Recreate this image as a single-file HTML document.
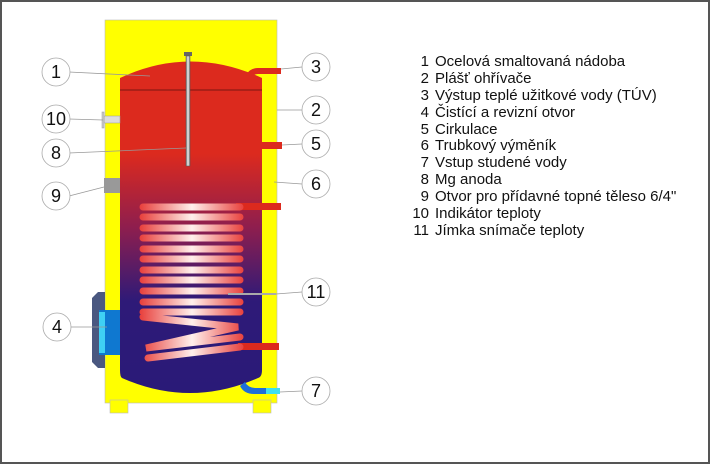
<!DOCTYPE html>
<html><head><meta charset="utf-8"><style>
html,body{margin:0;padding:0;background:#fff}
svg{display:block}
text{font-family:"Liberation Sans",sans-serif}
</style></head><body>
<svg width="710" height="464" viewBox="0 0 710 464" xmlns="http://www.w3.org/2000/svg">
<defs>
<linearGradient id="tg" gradientUnits="userSpaceOnUse" x1="0" y1="60" x2="0" y2="395">
<stop offset="0" stop-color="#dc2a1e"/><stop offset="0.28" stop-color="#dc2a1e"/>
<stop offset="0.5" stop-color="#8e1e4e"/><stop offset="0.72" stop-color="#2e1a78"/><stop offset="1" stop-color="#2a1a78"/>
</linearGradient>
<linearGradient id="coil" gradientUnits="userSpaceOnUse" x1="140" y1="0" x2="244" y2="0">
<stop offset="0" stop-color="#e8403c"/><stop offset="0.5" stop-color="#fff0ec"/><stop offset="1" stop-color="#e8403c"/>
</linearGradient>
<linearGradient id="anode" x1="0" y1="0" x2="1" y2="0">
<stop offset="0" stop-color="#777"/><stop offset="0.5" stop-color="#eee"/><stop offset="1" stop-color="#777"/>
</linearGradient>
</defs>
<rect x="1" y="1" width="708" height="462" fill="#fff" stroke="#555" stroke-width="2"/>
<rect x="105" y="20" width="172" height="383" fill="#ffff00" stroke="#bbb" stroke-width="0.6"/>
<rect x="110" y="400" width="18" height="13" fill="#ffff00" stroke="#bbb" stroke-width="0.6"/>
<rect x="253" y="400" width="18" height="13" fill="#ffff00" stroke="#bbb" stroke-width="0.6"/>
<path d="M120,78 Q190,45 262,78 L262,370 Q262,377 258,378 Q190,408 122,378 Q120,377 120,370 Z" fill="url(#tg)"/>
<line x1="120" y1="90" x2="262" y2="90" stroke="#5a1010" stroke-width="0.8"/>
<path d="M246,75 Q250,68 258,68 L281,68 L281,74 L258,74 Q254,74 250,78 Z" fill="#dc2a1e"/>
<rect x="262" y="142" width="20" height="7" fill="#dc2a1e"/>
<rect x="236" y="203" width="45" height="7" fill="#dc2a1e"/>
<rect x="238" y="343" width="41" height="7" fill="#dc2a1e"/>
<path d="M240,386 Q244,394 254,394 L280,394 L280,388 L256,388 Q248,388 245,382 Z" fill="#1f6ed8"/>
<rect x="266" y="388" width="14" height="6" fill="#3fe0f0"/>
<g stroke="url(#coil)" stroke-width="7" stroke-linecap="round" fill="none">
<line x1="143" y1="207" x2="240" y2="207"/>
<line x1="143" y1="217" x2="240" y2="217"/>
<line x1="143" y1="228" x2="240" y2="228"/>
<line x1="143" y1="238" x2="240" y2="238"/>
<line x1="143" y1="249" x2="240" y2="249"/>
<line x1="143" y1="259" x2="240" y2="259"/>
<line x1="143" y1="270" x2="240" y2="270"/>
<line x1="143" y1="280" x2="240" y2="280"/>
<line x1="143" y1="291" x2="240" y2="291"/>
<line x1="143" y1="302" x2="240" y2="302"/>
<line x1="143" y1="312" x2="240" y2="312"/>
<path d="M143,317 L238,327 L146,348 L240,337"/>
<path d="M148,358 L240,347"/>
</g>
<rect x="184" y="52" width="8" height="4" fill="#666"/>
<rect x="186" y="56" width="4" height="110" fill="url(#anode)" stroke="#555" stroke-width="0.5"/>
<rect x="104" y="116" width="16" height="7" fill="#ddd" stroke="#999" stroke-width="0.5"/>
<rect x="102" y="112" width="2" height="16" fill="#ccc" stroke="#999" stroke-width="0.5"/>
<rect x="104" y="178" width="16" height="15" fill="#999"/>
<path d="M98,292 L105,292 L105,368 L98,368 L92,362 L92,298 Z" fill="#4a5880"/>
<rect x="99" y="310" width="21" height="45" fill="#0f78d0"/>
<rect x="99" y="312" width="6" height="41" fill="#3fd0f4"/>
<line x1="228" y1="294" x2="276" y2="294" stroke="#aaa" stroke-width="2"/>
<g stroke="#999" stroke-width="0.8">
<line x1="69" y1="72" x2="150" y2="76"/>
<line x1="69" y1="119" x2="103" y2="120"/>
<line x1="69" y1="153" x2="186" y2="148"/>
<line x1="69" y1="196" x2="104" y2="187"/>
<line x1="70" y1="327" x2="107" y2="327"/>
<line x1="302" y1="67" x2="281" y2="69"/>
<line x1="302" y1="110" x2="277" y2="110"/>
<line x1="302" y1="144" x2="282" y2="145"/>
<line x1="302" y1="184" x2="274" y2="182"/>
<line x1="302" y1="292" x2="276" y2="294"/>
<line x1="302" y1="391" x2="280" y2="392"/>
</g>
<g fill="#fff" stroke="#aaa" stroke-width="0.8">
<circle cx="56" cy="72" r="14"/><circle cx="56" cy="119" r="14"/><circle cx="56" cy="153" r="14"/>
<circle cx="56" cy="196" r="14"/><circle cx="57" cy="327" r="14"/>
<circle cx="316" cy="67" r="14"/><circle cx="316" cy="110" r="14"/><circle cx="316" cy="144" r="14"/>
<circle cx="316" cy="184" r="14"/><circle cx="316" cy="292" r="14"/><circle cx="316" cy="391" r="14"/>
</g>
<g font-size="18" fill="#111" text-anchor="middle">
<text x="56" y="78">1</text><text x="56" y="125">10</text><text x="56" y="159">8</text>
<text x="56" y="202">9</text><text x="57" y="333">4</text>
<text x="316" y="73">3</text><text x="316" y="116">2</text><text x="316" y="150">5</text>
<text x="316" y="190">6</text><text x="316" y="298">11</text><text x="316" y="397">7</text>
</g>
<g font-size="15" fill="#111">
<g text-anchor="end">
<text x="429" y="66">1</text><text x="429" y="83">2</text><text x="429" y="100">3</text><text x="429" y="117">4</text>
<text x="429" y="134">5</text><text x="429" y="150">6</text><text x="429" y="167">7</text><text x="429" y="184">8</text>
<text x="429" y="201">9</text><text x="429" y="218">10</text><text x="429" y="235">11</text>
</g>
<text x="435" y="66">Ocelová smaltovaná nádoba</text>
<text x="435" y="83">Plášť ohřívače</text>
<text x="435" y="100">Výstup teplé užitkové vody (TÚV)</text>
<text x="435" y="117">Čistící a revizní otvor</text>
<text x="435" y="134">Cirkulace</text>
<text x="435" y="150">Trubkový výměník</text>
<text x="435" y="167">Vstup studené vody</text>
<text x="435" y="184">Mg anoda</text>
<text x="435" y="201">Otvor pro přídavné topné těleso 6/4"</text>
<text x="435" y="218">Indikátor teploty</text>
<text x="435" y="235">Jímka snímače teploty</text>
</g>
</svg>
</body></html>
